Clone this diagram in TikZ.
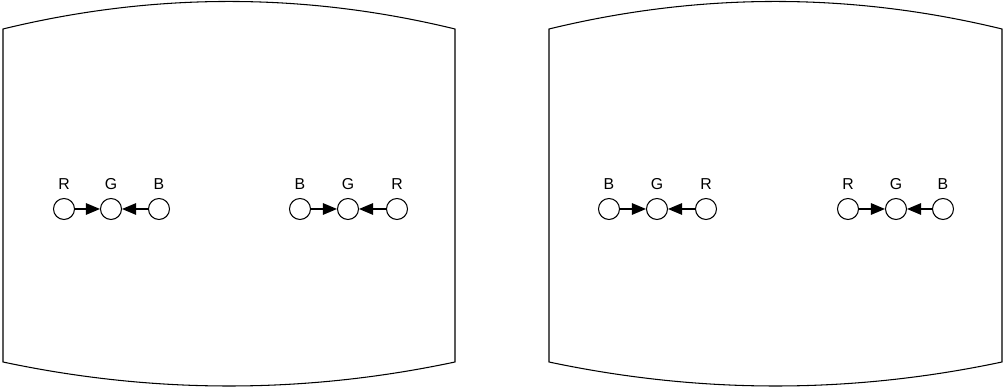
\documentclass[tikz,border=0pt]{standalone}
\usepackage{fontspec}
\setsansfont{Liberation Sans}
\usetikzlibrary{arrows.meta}

\tikzset{
  lamp/.style={circle, draw, line width=0.6pt, minimum size=0.42cm, inner sep=0pt},
  feed/.style={line width=0.7pt, -{Triangle[length=0.28cm,width=0.23cm]}},
  every label/.style={inner sep=0pt, text depth=0pt, yshift=0.17cm,
    font=\sffamily\fontsize{9}{10}\selectfont}
}

\begin{document}
\begin{tikzpicture}[x=0.02cm, y=0.02cm]
    \useasboundingbox (0,0) rectangle (1005,388);

    % Pantallas
    \draw[line width=0.6pt] (3,359) .. controls (153.7,395.7) and (304.3,395.7) .. (455,359)
        -- (455,26) .. controls (304.3,-6) and (153.7,-6) .. (3,26) -- cycle;
    \draw[line width=0.6pt] (549,359) .. controls (700,395.7) and (851,395.7) .. (1002,359)
        -- (1002,26) .. controls (851,-6) and (700,-6) .. (549,26) -- cycle;

    % Grupo 1
    \node[lamp, label=above:R] (r1) at (64,179) {};
    \node[lamp, label=above:G] (g1) at (111,179) {};
    \node[lamp, label=above:B] (b1) at (159,179) {};
    \draw[feed] (r1) -- (g1);
    \draw[feed] (b1) -- (g1);

    % Grupo 2
    \node[lamp, label=above:B] (b2) at (300,179) {};
    \node[lamp, label=above:G] (g2) at (348,179) {};
    \node[lamp, label=above:R] (r2) at (397,179) {};
    \draw[feed] (b2) -- (g2);
    \draw[feed] (r2) -- (g2);

    % Grupo 3
    \node[lamp, label=above:B] (b3) at (609,179) {};
    \node[lamp, label=above:G] (g3) at (657,179) {};
    \node[lamp, label=above:R] (r3) at (706,179) {};
    \draw[feed] (b3) -- (g3);
    \draw[feed] (r3) -- (g3);

    % Grupo 4
    \node[lamp, label=above:R] (r4) at (848,179) {};
    \node[lamp, label=above:G] (g4) at (896,179) {};
    \node[lamp, label=above:B] (b4) at (943,179) {};
    \draw[feed] (r4) -- (g4);
    \draw[feed] (b4) -- (g4);
\end{tikzpicture}
\end{document}
